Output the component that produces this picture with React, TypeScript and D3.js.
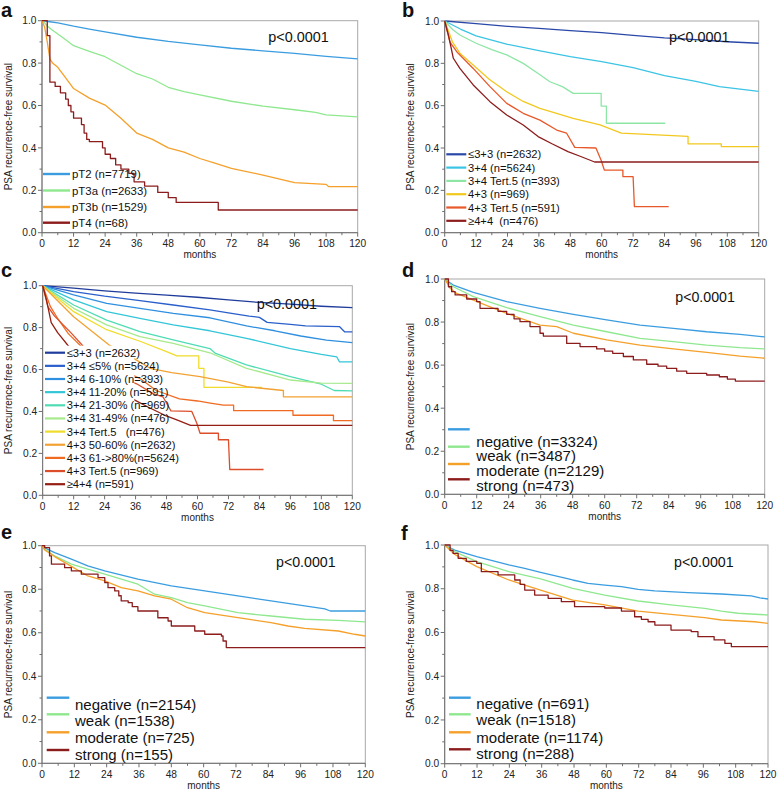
import React from 'react';
import * as d3 from 'd3';

type Pt = [number, number];

const MONTH_TICKS = [0, 12, 24, 36, 48, 60, 72, 84, 96, 108, 120];
const MONTH_MINOR = [6, 18, 30, 42, 54, 66, 78, 90, 102, 114];
const SURV_TICKS = [0, 0.2, 0.4, 0.6, 0.8, 1.0];
const SURV_MINOR = [0.1, 0.3, 0.5, 0.7, 0.9];
const P_TEXT = 'p<0.0001';
const Y_TITLE = 'PSA recurrence-free survival';
const X_TITLE = 'months';

// ---------- panel a ----------
const A_LABELS = ['pT2 (n=7719)', 'pT3a (n=2633)', 'pT3b (n=1529)', 'pT4 (n=68)'];
const A_PT2: Pt[] = [[0,1],[3,0.995],[6,0.99],[12,0.974],[18,0.96],[24,0.947],[36,0.922],[48,0.902],[60,0.886],[72,0.87],[84,0.858],[96,0.846],[108,0.832],[120,0.82]];
const A_PT3A: Pt[] = [[0,1],[1,0.99],[2,0.975],[4,0.955],[8,0.92],[12,0.882],[18,0.855],[24,0.83],[30,0.79],[36,0.75],[42,0.725],[48,0.686],[54,0.665],[60,0.65],[72,0.62],[84,0.597],[96,0.58],[104,0.568],[108,0.556],[120,0.546]];
const A_PT3B: Pt[] = [[0,1],[1,0.97],[2,0.9],[3,0.82],[4,0.8],[6,0.78],[9,0.73],[12,0.68],[18,0.635],[24,0.602],[30,0.54],[36,0.47],[42,0.44],[48,0.4],[54,0.38],[60,0.35],[66,0.327],[72,0.303],[84,0.272],[92,0.248],[96,0.236],[108,0.228],[109,0.217],[120,0.217]];
const A_PT4: Pt[] = [[0,1],[2,0.93],[3,0.71],[5,0.69],[7,0.66],[9,0.63],[10,0.6],[11,0.57],[12,0.54],[15,0.51],[16,0.47],[17,0.44],[18,0.43],[23,0.4],[24,0.37],[26,0.35],[28,0.32],[30,0.3],[33,0.28],[35,0.24],[39,0.22],[44,0.19],[48,0.165],[51,0.143],[67,0.107],[120,0.107]];

// ---------- panel b ----------
const B_LABELS = ['≤3+3 (n=2632)', '3+4 (n=5624)', '3+4 Tert.5 (n=393)', '4+3 (n=969)', '4+3 Tert.5 (n=591)', '≥4+4  (n=476)'];
const G33: Pt[] = [[0,1],[12,0.988],[24,0.975],[36,0.965],[48,0.955],[60,0.945],[72,0.932],[84,0.92],[96,0.912],[108,0.902],[120,0.895]];
const G34: Pt[] = [[0,1],[6,0.962],[12,0.93],[24,0.89],[36,0.86],[48,0.832],[60,0.808],[72,0.78],[84,0.742],[96,0.715],[105,0.69],[120,0.668]];
const G34T5: Pt[] = [[0,1],[3,0.96],[5.8,0.934],[12,0.895],[18,0.865],[23.7,0.84],[30,0.8],[36,0.75],[40.2,0.713],[45,0.69],[49.1,0.658],[59.8,0.658],[59.8,0.598],[61.8,0.598],[61.8,0.517],[84.3,0.517]];
const G43: Pt[] = [[0,1],[1.5,0.95],[3,0.9],[6,0.845],[10.9,0.792],[17,0.725],[23.7,0.666],[30,0.62],[36.4,0.587],[49.1,0.54],[59.4,0.509],[67.5,0.47],[93,0.455],[93,0.42],[105.7,0.42],[105.7,0.407],[120,0.407]];
const G43T5: Pt[] = [[0,1],[2,0.9],[4.6,0.855],[10.9,0.776],[17.3,0.69],[23.7,0.611],[30,0.564],[36.4,0.532],[42.8,0.485],[46.6,0.47],[49.7,0.403],[57.8,0.4],[59.7,0.345],[61,0.296],[68.1,0.296],[68.1,0.265],[72,0.265],[72.5,0.123],[85.6,0.123]];
const G44: Pt[] = [[0,1],[1.5,0.93],[3.3,0.824],[5.8,0.776],[10.9,0.698],[17.3,0.619],[23.7,0.556],[30,0.509],[35.7,0.454],[41,0.42],[47.1,0.383],[52,0.36],[57.3,0.334],[120,0.334]];

// ---------- panel c ----------
const C_LABELS = ['≤3+3 (n=2632)', '3+4 ≤5% (n=5624)', '3+4 6-10% (n=393)', '3+4 11-20% (n=591)', '3+4 21-30% (n=969)', '3+4 31-49% (n=476)', '3+4 Tert.5   (n=476)', '4+3 50-60% (n=2632)', '4+3 61->80%(n=5624)', '4+3 Tert.5 (n=969)', '≥4+4 (n=591)'];
const C_LE5: Pt[] = [[0,1],[12,0.972],[24,0.95],[37.7,0.929],[50.6,0.908],[64.8,0.885],[72,0.87],[80,0.855],[84,0.849],[87,0.825],[96,0.815],[101.9,0.808],[115,0.805],[117,0.78],[120,0.78]];
const C_6_10: Pt[] = [[0,1],[12,0.956],[24.8,0.916],[37.7,0.892],[50.6,0.868],[64.8,0.847],[79,0.808],[90,0.785],[100,0.76],[110,0.74],[120,0.728]];
const C_11_20: Pt[] = [[0,1],[12,0.932],[24.8,0.876],[37.7,0.844],[50.6,0.813],[64.8,0.785],[79,0.749],[96,0.7],[108,0.672],[114,0.66],[115,0.637],[120,0.637]];
const C_21_30: Pt[] = [[0,1],[12,0.908],[24.8,0.836],[37.7,0.781],[50.6,0.741],[64.8,0.7],[67,0.677],[79,0.622],[96,0.566],[108,0.53],[113,0.5],[120,0.498]];
const C_31_49: Pt[] = [[0,1],[12,0.892],[24.8,0.813],[37.7,0.757],[50.6,0.725],[64.8,0.68],[79,0.606],[96,0.55],[108,0.535],[120,0.534]];
const C_T5: Pt[] = [[0,1],[12,0.876],[24.8,0.79],[37.7,0.735],[48,0.685],[52,0.665],[60.5,0.665],[60.5,0.606],[62.5,0.606],[62.5,0.515],[85,0.515]];
const C_50_60: Pt[] = [[0,1],[12,0.852],[26,0.715],[36.4,0.645],[41.6,0.606],[50,0.585],[61,0.566],[72,0.54],[79,0.518],[93.3,0.5],[93.3,0.47],[120,0.47]];
const C_61_80: Pt[] = [[0,1],[3,0.9],[6,0.84],[10,0.77],[15,0.71],[24,0.64],[33,0.585],[38,0.555],[44,0.5],[53,0.46],[60,0.45],[65,0.44],[70,0.43],[74,0.43],[74,0.404],[97,0.404],[97,0.382],[112.7,0.382],[112.7,0.356],[120,0.356]];

// ---------- panels d, e, f ----------
const D_LABELS = ['negative (n=3324)', 'weak (n=3487)', 'moderate (n=2129)', 'strong (n=473)'];
const D_NEG: Pt[] = [[0,1],[1,0.99],[3.25,0.972],[10.75,0.938],[23.25,0.895],[35.75,0.864],[48.25,0.836],[60.75,0.81],[73.25,0.786],[85.75,0.771],[98.25,0.755],[110.75,0.743],[120,0.731]];
const D_WEAK: Pt[] = [[0,1],[1,0.985],[3.25,0.964],[10.75,0.918],[23.25,0.867],[35.75,0.825],[48.25,0.786],[60.75,0.755],[73.25,0.724],[85.75,0.709],[98.25,0.693],[110.75,0.681],[120,0.675]];
const D_MOD: Pt[] = [[0,1],[1,0.98],[2,0.957],[4.5,0.933],[10.75,0.902],[17,0.871],[23.25,0.84],[35.75,0.786],[42,0.779],[48.25,0.748],[60.75,0.717],[73.25,0.693],[85.75,0.675],[98.25,0.659],[110.75,0.642],[120,0.632]];
const D_STR: Pt[] = [[0,1],[1.4,0.964],[2.6,0.941],[3.9,0.926],[8.25,0.907],[12,0.895],[13.25,0.864],[20,0.85],[23.25,0.836],[26,0.815],[28.25,0.802],[32,0.779],[35.75,0.748],[37,0.735],[45.75,0.701],[50.75,0.686],[57,0.675],[60,0.665],[63,0.655],[67,0.64],[70.75,0.624],[75.75,0.604],[80,0.595],[83.25,0.585],[87,0.572],[90.75,0.562],[98.25,0.554],[103,0.546],[106,0.535],[109,0.526],[120,0.526]];

const E_LABELS = ['negative (n=2154)', 'weak (n=1538)', 'moderate (n=725)', 'strong (n=155)'];
const E_NEG: Pt[] = [[0,1],[1,0.99],[4.7,0.968],[10.9,0.938],[17,0.907],[23.3,0.884],[35.6,0.846],[48,0.815],[60.4,0.792],[72.7,0.769],[85,0.746],[97.5,0.723],[105,0.71],[107,0.7],[120,0.7]];
const E_WEAK: Pt[] = [[0,1],[1,0.985],[4.7,0.953],[10.9,0.915],[17,0.892],[23.3,0.869],[35.6,0.823],[41.8,0.777],[48,0.761],[54,0.738],[60.4,0.723],[72.7,0.692],[85,0.677],[97.5,0.662],[110,0.657],[120,0.65]];
const E_MOD: Pt[] = [[0,1],[1,0.98],[4.7,0.95],[10.9,0.905],[17,0.861],[23.3,0.838],[29.4,0.807],[35.6,0.792],[41.8,0.769],[48,0.754],[54,0.715],[60.4,0.692],[72.7,0.669],[85,0.646],[91.3,0.631],[97.5,0.62],[110,0.608],[116,0.593],[120,0.585]];
const E_STR: Pt[] = [[0,1],[1,0.991],[2.8,0.953],[3.5,0.915],[8.4,0.899],[10.9,0.884],[14.6,0.869],[20.8,0.853],[23.3,0.83],[24.5,0.807],[27,0.792],[28.5,0.77],[29.4,0.746],[32,0.738],[33.5,0.72],[35.6,0.7],[43,0.669],[46.8,0.654],[48,0.631],[56.7,0.608],[60.4,0.593],[66.6,0.585],[67.2,0.562],[68.4,0.532],[120,0.532]];

const F_LABELS = ['negative (n=691)', 'weak (n=1518)', 'moderate (n=1174)', 'strong (n=288)'];
const F_NEG: Pt[] = [[0,1],[3.7,0.977],[11.9,0.947],[23.8,0.909],[29.7,0.893],[35.6,0.875],[47.5,0.84],[53.2,0.825],[59.4,0.817],[65.6,0.81],[71.8,0.797],[78,0.79],[90.3,0.782],[102.7,0.776],[113.8,0.767],[117,0.758],[120,0.753]];
const F_WEAK: Pt[] = [[0,1],[3.7,0.97],[11.9,0.924],[23.8,0.878],[35.6,0.845],[47.5,0.802],[59.4,0.771],[71.8,0.744],[84,0.726],[96.5,0.71],[102.7,0.698],[108.9,0.688],[120,0.68]];
const F_MOD: Pt[] = [[0,1],[3.7,0.957],[11.9,0.901],[23.8,0.84],[29.7,0.817],[35.6,0.794],[47.5,0.748],[59.4,0.726],[71.8,0.698],[84,0.683],[96.5,0.668],[102.7,0.657],[115,0.649],[120,0.642]];
const F_STR: Pt[] = [[0,1],[2,0.975],[3.1,0.962],[5,0.939],[8,0.925],[11.9,0.916],[13.6,0.878],[19.8,0.863],[26,0.84],[28,0.82],[29.7,0.794],[33.4,0.771],[38.4,0.756],[43.3,0.741],[48.2,0.718],[59.4,0.712],[65.6,0.698],[70.5,0.672],[73,0.66],[75.5,0.649],[78,0.634],[84,0.611],[91.5,0.604],[94,0.581],[100,0.566],[104,0.55],[106.4,0.535],[120,0.535]];

// ---------- styles ----------
const FONT = '"Liberation Sans", Arial, Helvetica, sans-serif';
const COL_A = ['#3b9de0', '#8fe88f', '#f5a02a', '#8c1c1c'];
const COL_B = ['#2a48a8', '#3cc4e4', '#8ee6a6', '#f2c81e', '#e8582a', '#8c1c1c'];
const COL_C = ['#1f3c9c', '#2a5fcc', '#2f8fe0', '#33c6d8', '#4fdcb4', '#a6ea8c', '#f0dc2c', '#f2a233', '#f06a22', '#dc4e2a', '#961e12'];

type Series = { label: string; color: string; data: Pt[]; step?: boolean };
type Layout = {
  letter: string; lx: number; ly: number;
  x0: number; x1: number; yt: number; yb: number;
  px: number; py: number; pfs: number;
  legLine: [number, number]; legLineY: number[]; legTextX: number; legTextY: number[]; legFs: number; legLineW: number;
  mask?: { m: number; v: number };
};

function mk(labels: string[], colors: string[], data: Pt[][], stepIdx: number[] = []): Series[] {
  return labels.map((l, i) => ({ label: l, color: colors[i], data: data[i], step: stepIdx.includes(i) }));
}

const rows = (start: number, step: number, n: number) => d3.range(n).map(i => start + i * step);

const PANELS: { L: Layout; S: Series[] }[] = [
  {
    L: { letter: 'a', lx: 1, ly: 16.5, x0: 42, x1: 357.7, yt: 20.7, yb: 232.7, px: 268.3, py: 42, pfs: 14.4,
      legLine: [43, 70], legLineY: [174, 190.5, 207, 222.7], legTextX: 72, legTextY: [174, 190.5, 207, 222.7], legFs: 11.4, legLineW: 2.4 },
    S: mk(A_LABELS, COL_A, [A_PT2, A_PT3A, A_PT3B, A_PT4], [3]),
  },
  {
    L: { letter: 'b', lx: 402, ly: 16.5, x0: 444.7, x1: 758.7, yt: 21, yb: 232.7, px: 669, py: 42, pfs: 14.4,
      legLine: [446.3, 466.3], legLineY: rows(154.3, 13.3, 6), legTextX: 468, legTextY: rows(154.3, 13.3, 6), legFs: 11.2, legLineW: 2.2 },
    S: mk(B_LABELS, COL_B, [G33, G34, G34T5, G43, G43T5, G44]),
  },
  {
    L: { letter: 'c', lx: 1, ly: 277, x0: 42.7, x1: 352.3, yt: 285.7, yb: 495.3, px: 256.7, py: 308.5, pfs: 14.4,
      legLine: [45, 65], legLineY: rows(352.7, 13.15, 11), legTextX: 66.7, legTextY: rows(352.7, 13.15, 11), legFs: 11.2, legLineW: 2.2,
      mask: { m: 35.5, v: 0.714 } },
    S: mk(C_LABELS, COL_C, [G33, C_LE5, C_6_10, C_11_20, C_21_30, C_31_49, C_T5, C_50_60, C_61_80, G43T5, G44]),
  },
  {
    L: { letter: 'd', lx: 402, ly: 277, x0: 444.7, x1: 764.7, yt: 279, yb: 494.3, px: 675.3, py: 301.5, pfs: 14.2,
      legLine: [448, 469.7], legLineY: [429.3, 446.7, 464, 479.3], legTextX: 476.3, legTextY: [441.5, 455.8, 470.3, 485.7], legFs: 15, legLineW: 2.4 },
    S: mk(D_LABELS, COL_A, [D_NEG, D_WEAK, D_MOD, D_STR], [3]),
  },
  {
    L: { letter: 'e', lx: 1, ly: 538.5, x0: 42, x1: 365.3, yt: 545.7, yb: 763.3, px: 276, py: 566.5, pfs: 14.2,
      legLine: [46.7, 69.3], legLineY: [697.7, 714.3, 732.3, 750], legTextX: 75, legTextY: [704.5, 720.5, 737.3, 754.3], legFs: 15, legLineW: 2.4 },
    S: mk(E_LABELS, COL_A, [E_NEG, E_WEAK, E_MOD, E_STR], [3]),
  },
  {
    L: { letter: 'f', lx: 401, ly: 540, x0: 444.7, x1: 768, yt: 545, yb: 763.7, px: 674, py: 566.5, pfs: 14.2,
      legLine: [449, 470.7], legLineY: [697.7, 714.3, 732.3, 749.3], legTextX: 476.3, legTextY: [704, 719.8, 737.3, 753.3], legFs: 15, legLineW: 2.4 },
    S: mk(F_LABELS, COL_A, [F_NEG, F_WEAK, F_MOD, F_STR], [3]),
  },
];

function Panel({ L, S }: { L: Layout; S: Series[] }) {
  const x = d3.scaleLinear().domain([0, 120]).range([L.x0, L.x1]);
  const y = d3.scaleLinear().domain([0, 1]).range([L.yb, L.yt]);
  const axisCol = '#6e6e6e';
  const frameCol = '#a8a8a8';
  const tickFs = 10.2;
  return (
    <g fontFamily={FONT}>
      <text x={L.lx} y={L.ly} fontSize={20} fontWeight="bold" fill="#111">{L.letter}</text>
      <rect x={L.x0} y={L.yt} width={L.x1 - L.x0} height={L.yb - L.yt} fill="#fff" stroke={frameCol} strokeWidth={1} />
      <line x1={L.x0} x2={L.x0} y1={L.yt} y2={L.yb} stroke={axisCol} strokeWidth={1} />
      <line x1={L.x0} x2={L.x1} y1={L.yb} y2={L.yb} stroke={axisCol} strokeWidth={1} />
      {MONTH_TICKS.map(t => (
        <g key={'xt' + t}>
          <line x1={x(t)} x2={x(t)} y1={L.yb} y2={L.yb + 4} stroke={axisCol} />
          <text x={x(t)} y={L.yb + 14.5} fontSize={tickFs} textAnchor="middle" fill="#222">{t}</text>
        </g>
      ))}
      {MONTH_MINOR.map(t => (
        <line key={'xm' + t} x1={x(t)} x2={x(t)} y1={L.yb} y2={L.yb + 2.5} stroke={axisCol} />
      ))}
      <text x={(L.x0 + L.x1) / 2} y={L.yb + 25.5} fontSize={10} textAnchor="middle" fill="#222">{X_TITLE}</text>
      {SURV_TICKS.map(t => (
        <g key={'yt' + t}>
          <line x1={L.x0 - 4} x2={L.x0} y1={y(t)} y2={y(t)} stroke={axisCol} />
          <text x={L.x0 - 5.5} y={y(t) + 3.6} fontSize={tickFs} textAnchor="end" fill="#222">{d3.format('.1f')(t)}</text>
        </g>
      ))}
      {SURV_MINOR.map(t => (
        <line key={'ym' + t} x1={L.x0 - 2.5} x2={L.x0} y1={y(t)} y2={y(t)} stroke={axisCol} />
      ))}
      <text transform={`translate(${L.x0 - 34},${(L.yt + L.yb) / 2}) rotate(-90)`} fontSize={10} textAnchor="middle" dominantBaseline="central" fill="#222">{Y_TITLE}</text>
      {S.map((s, i) => {
        const line = d3.line<Pt>().x(d => x(d[0])).y(d => y(d[1])).curve(s.step ? d3.curveStepAfter : d3.curveLinear);
        return <path key={'c' + i} d={line(s.data) || ''} fill="none" stroke={s.color} strokeWidth={1.3} strokeLinejoin="round" />;
      })}
      {L.mask && (
        <rect x={L.x0 + 1} y={y(L.mask.v)} width={x(L.mask.m) - L.x0 - 1} height={L.yb - 2 - y(L.mask.v)} fill="#fff" />
      )}
      {S.map((s, i) => (
        <g key={'lg' + i}>
          <line x1={L.legLine[0]} x2={L.legLine[1]} y1={L.legLineY[i]} y2={L.legLineY[i]} stroke={s.color} strokeWidth={L.legLineW} />
          <text x={L.legTextX} y={L.legTextY[i] + L.legFs * 0.36} fontSize={L.legFs} fill="#111" style={{ whiteSpace: 'pre' }}>{s.label}</text>
        </g>
      ))}
      <text x={L.px} y={L.py} fontSize={L.pfs} fill="#111">{P_TEXT}</text>
    </g>
  );
}

export default function App() {
  return (
    <div style={{ position: 'absolute', left: 0, top: 0 }}>
      <svg width={778} height={791} viewBox="0 0 778 791" style={{ display: 'block', background: '#fff' }}>
        <rect x={0} y={0} width={778} height={791} fill="#fff" />
        {PANELS.map((p, i) => <Panel key={i} L={p.L} S={p.S} />)}
      </svg>
    </div>
  );
}
